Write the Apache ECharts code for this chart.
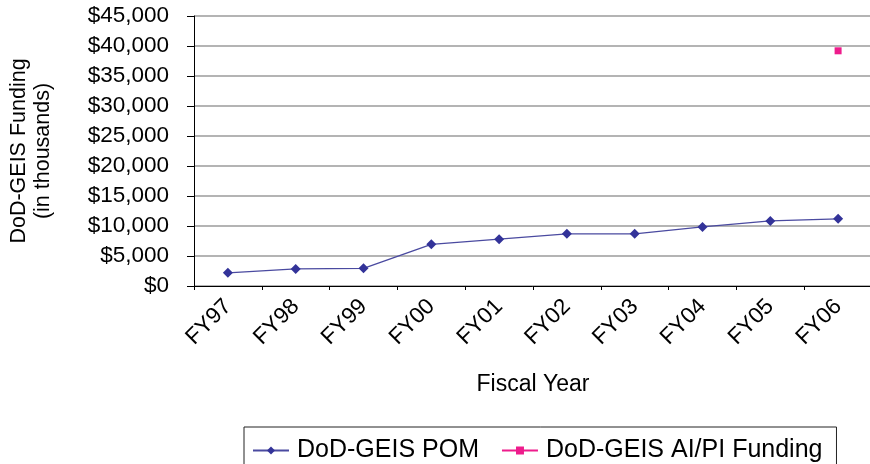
<!DOCTYPE html>
<html>
<head>
<meta charset="utf-8">
<script src="https://cdn.jsdelivr.net/npm/echarts@6/dist/echarts.min.js"></script>
<style>
html,body{margin:0;padding:0;background:#fff;}
#c{width:870px;height:464px;}
</style>
</head>
<body>
<div id="c"></div>
<script>
var categories = ['FY97','FY98','FY99','FY00','FY01','FY02','FY03','FY04','FY05','FY06'];
var pomValues = [2200, 2850, 2950, 6950, 7800, 8700, 8700, 9850, 10850, 11200];
var aipiValues = [null, null, null, null, null, null, null, null, null, 39200];
var seriesNames = ['DoD-GEIS POM', 'DoD-GEIS AI/PI Funding'];

var FONT = '"Liberation Sans", Arial, Helvetica, sans-serif';
var chart = echarts.init(document.getElementById('c'), null, {renderer:'canvas'});
chart.setOption({
  animation: false,
  backgroundColor: '#fff',
  textStyle: {fontFamily: FONT, color: '#000'},
  grid: {left: 194, top: 16, right: -2, bottom: 178, outerBoundsMode: 'none', containLabel: false},
  legend: {
    left: 244, top: 427,
    padding: [11, 14, 12, 8],
    itemGap: 22,
    itemWidth: 36, itemHeight: 10,
    borderColor: '#222', borderWidth: 1,
    backgroundColor: '#fff',
    textStyle: {fontFamily: FONT, fontSize: 25, color: '#000', padding: [0, 0, 0, 3]},
    data: [seriesNames[0], seriesNames[1]]
  },
  xAxis: {
    type: 'category',
    data: categories,
    boundaryGap: true,
    name: 'Fiscal Year',
    nameLocation: 'middle',
    nameGap: 87,
    nameTextStyle: {fontFamily: FONT, fontSize: 23, color: '#000'},
    axisLine: {lineStyle: {color: '#000', width: 1}},
    axisTick: {show: true, length: 4, lineStyle: {color: '#000'}},
    axisLabel: {rotate: 45, fontSize: 22.5, color: '#000', margin: 17, fontFamily: FONT},
    splitLine: {show: false}
  },
  yAxis: {
    type: 'value',
    min: 0, max: 45000, interval: 5000,
    name: 'DoD-GEIS Funding\n(in thousands)',
    nameLocation: 'middle',
    nameRotate: 90,
    nameGap: 139,
    nameTextStyle: {fontFamily: FONT, fontSize: 21.5, color: '#000', lineHeight: 24, align: 'center'},
    axisLine: {show: true, lineStyle: {color: '#000', width: 1}},
    axisTick: {show: true, length: 7, lineStyle: {color: '#000'}},
    axisLabel: {
      fontSize: 22.5, color: '#000', margin: 25, fontFamily: FONT,
      formatter: function(v){ return '$' + v.toLocaleString('en-US'); }
    },
    splitLine: {show: true, lineStyle: {color: '#b4b4b4', width: 2}}
  },
  series: [
    {
      name: seriesNames[0],
      type: 'line',
      data: pomValues,
      symbol: 'diamond',
      symbolSize: 10,
      itemStyle: {color: '#333399'},
      lineStyle: {color: '#4a4aa0', width: 1.3}
    },
    {
      name: seriesNames[1],
      type: 'line',
      data: aipiValues,
      symbol: 'rect',
      symbolSize: 7,
      itemStyle: {color: '#ee1c8c'},
      lineStyle: {color: '#ee1c8c', width: 1.3}
    }
  ]
});
</script>
</body>
</html>
